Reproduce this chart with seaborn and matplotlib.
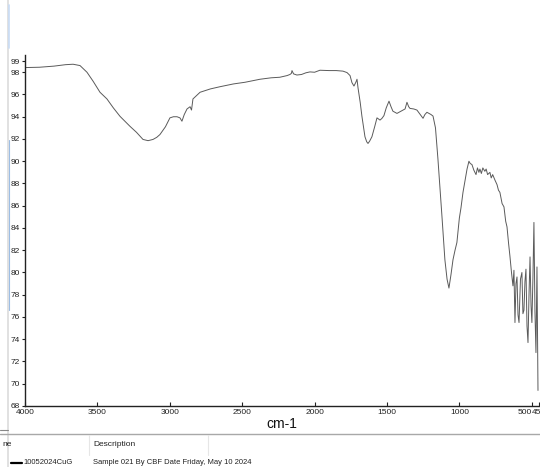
import matplotlib
matplotlib.use("Agg")
import matplotlib.pyplot as plt
import matplotlib.transforms as mtransforms
from matplotlib.lines import Line2D
import seaborn as sns
import pandas as pd

# ---- data ----
wavenumber = [
    4000, 3900, 3800, 3720, 3668, 3620, 3572, 3530, 3482, 3434,
    3390, 3344, 3310, 3275, 3230, 3185, 3150, 3116, 3090, 3068,
    3030, 2999, 2975, 2950, 2930, 2916, 2900, 2881, 2860, 2850,
    2840, 2791, 2720, 2653, 2560, 2480, 2377, 2300, 2240, 2190,
    2170, 2160, 2156, 2145, 2122, 2090, 2060, 2032, 2000, 1963,
    1900, 1850, 1804, 1776, 1755, 1742, 1728, 1715, 1707, 1700,
    1685, 1673, 1652, 1640, 1631, 1620, 1604, 1585, 1569, 1548,
    1535, 1521, 1505, 1486, 1472, 1459, 1445, 1431, 1410, 1390,
    1375, 1362, 1350, 1341, 1315, 1293, 1270, 1251, 1238, 1224,
    1210, 1196, 1182, 1165, 1148, 1135, 1120, 1100, 1085, 1072,
    1058, 1044, 1030, 1017, 1000, 989, 975, 960, 947, 934,
    925, 913, 900, 885, 875, 865, 858, 848, 838, 824,
    815, 805, 789, 780, 770, 754, 740, 730, 720, 705,
    692, 680, 671, 660, 651, 640, 630, 623, 616, 609,
    602, 595, 588, 578, 568, 561, 554, 547, 540, 533,
    526, 519, 512, 505, 499, 492, 485, 478, 471, 464,
    457,
]
transmittance = [
    98.42, 98.45, 98.55, 98.68, 98.72, 98.60, 98.00, 97.20, 96.20, 95.60,
    94.80, 94.04, 93.60, 93.14, 92.60, 91.96, 91.85, 91.96, 92.15, 92.40,
    93.10, 93.90, 94.00, 94.00, 93.90, 93.60, 94.20, 94.70, 94.90, 94.60,
    95.60, 96.20, 96.50, 96.70, 96.95, 97.10, 97.37, 97.50, 97.55, 97.70,
    97.80, 97.90, 98.15, 97.85, 97.75, 97.80, 97.95, 98.03, 98.00, 98.18,
    98.15, 98.15, 98.10, 97.97, 97.70, 97.07, 96.76, 97.10, 97.37, 96.60,
    95.30, 94.04, 92.20, 91.75, 91.60, 91.80, 92.20, 93.10, 93.90, 93.70,
    93.85, 94.10, 94.80, 95.40, 94.90, 94.50, 94.40, 94.30, 94.45, 94.60,
    94.70, 95.30, 94.90, 94.75, 94.70, 94.60, 94.20, 93.86, 94.20, 94.40,
    94.30, 94.20, 94.06, 93.00, 90.20, 87.80, 85.00, 81.15, 79.40, 78.60,
    79.80, 81.15, 82.00, 82.70, 84.90, 85.80, 87.20, 88.30, 89.30, 90.00,
    89.80, 89.70, 89.20, 88.80, 89.40, 89.00, 89.30, 88.90, 89.40, 89.10,
    89.30, 88.80, 89.00, 88.50, 88.80, 88.30, 87.90, 87.40, 87.20, 86.20,
    85.90, 84.60, 84.10, 82.60, 81.50, 80.00, 78.80, 80.20, 75.50, 79.00,
    79.60, 76.20, 75.50, 79.40, 80.00, 76.30, 76.60, 79.20, 80.30, 75.20,
    73.70, 78.00, 81.40, 77.00, 75.50, 79.50, 84.50, 76.50, 72.80, 80.50,
    69.40,
]
x_ticks = [4000, 3500, 3000, 2500, 2000, 1500, 1000, 500, 450]
x_tick_labels = ["4000", "3500", "3000", "2500", "2000", "1500", "1000", "500", "450"]
y_ticks = [68, 70, 72, 74, 76, 78, 80, 82, 84, 86, 88, 90, 92, 94, 96, 98, 99]
y_tick_labels = [str(v) for v in y_ticks]
x_label = "cm-1"
legend_name = "10052024CuG"
legend_desc = "Sample 021 By CBF Date Friday, May 10 2024"

df = pd.DataFrame({"wavenumber": wavenumber, "T": transmittance})

sns.set_theme(style="white")
plt.rcParams["font.family"] = ["Liberation Sans Narrow", "Liberation Sans", "DejaVu Sans"]

W, H = 540, 467
fig = plt.figure(figsize=(W / 100, H / 100), dpi=100)
ax = fig.add_axes([25 / W, 1 - 406 / H, (539 - 25) / W, (406 - 55) / H])

sns.lineplot(data=df, x="wavenumber", y="T", ax=ax, sort=False,
             color="#5a5a5a", linewidth=0.7, estimator=None)

ax.set_xlim(4000, 450)
ax.set_ylim(68, 99.55)
ax.set_xticks(x_ticks)
ax.set_xticklabels(x_tick_labels)
ax.set_yticks(y_ticks)
ax.set_yticklabels(y_tick_labels)
for lbl in ax.get_xticklabels():
    if lbl.get_text() == "500":
        lbl.set_horizontalalignment("right")
for lbl in ax.get_yticklabels():
    if lbl.get_text() == "68":
        lbl.set_transform(lbl.get_transform() +
                          mtransforms.ScaledTranslation(0, 4.5 / 100, fig.dpi_scale_trans))
ax.set_xlabel(x_label, fontsize=10, labelpad=1, color="#111111")
ax.set_ylabel("")

for s in ["top", "right"]:
    ax.spines[s].set_visible(False)
for s in ["left", "bottom"]:
    ax.spines[s].set_color("#222222")
    ax.spines[s].set_linewidth(1.0)
ax.tick_params(axis="y", direction="out", length=2.5, width=0.8, pad=1,
               labelsize=6, colors="#222222", left=True)
ax.tick_params(axis="x", direction="in", length=3, width=0.8, pad=2,
               labelsize=6, colors="#222222", bottom=True)
ax.grid(False)

# ---- lower description panel and window chrome ----
def fig_line(x0, y0, x1, y1, color, lw=1.0):
    fig.add_artist(Line2D([x0 / W, x1 / W], [1 - y0 / H, 1 - y1 / H],
                          transform=fig.transFigure, color=color, linewidth=lw))

fig_line(7.5, 0, 7.5, H, "#dcdcdc", 1.2)
fig_line(8.5, 5, 8.5, 48, "#c8dcf5", 1.2)
fig_line(8.5, 140, 8.5, 310, "#9dbde3", 0.8)
fig_line(0, 434, W, 434, "#a8a8a8", 1.0)
fig_line(0, 430, 8, 430, "#888888", 0.8)
fig_line(89, 435, 89, 455, "#e6e6e6", 0.8)
fig_line(208, 435, 208, 455, "#e6e6e6", 0.8)
fig_line(11, 463, 22, 463, "#000000", 1.6)

fig.text(2 / W, 1 - 444 / H, "ne", fontsize=6, va="center", ha="left", color="#222222")
fig.text(93 / W, 1 - 444 / H, "Description", fontsize=6, va="center", ha="left", color="#222222")
fig.text(23 / W, 1 - 463 / H, legend_name, fontsize=5.5, va="center", ha="left", color="#222222")
fig.text(93 / W, 1 - 463 / H, legend_desc, fontsize=5.5, va="center", ha="left", color="#222222")

fig.savefig("out.png", dpi=100)
